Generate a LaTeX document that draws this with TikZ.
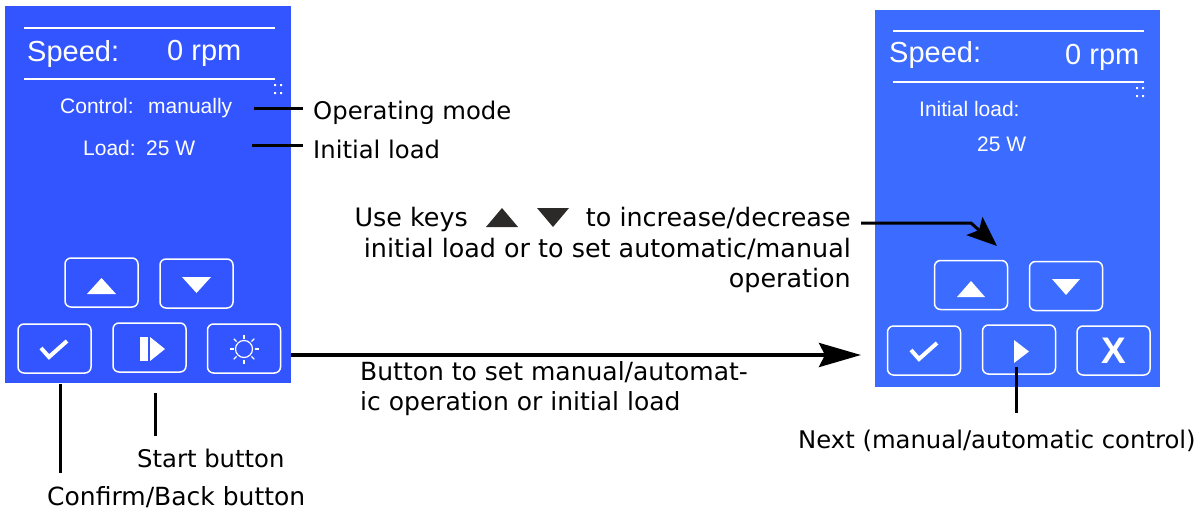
\documentclass[tikz,border=0pt]{standalone}
\usepackage{fontspec}
\setmainfont{DejaVu Sans}
\newfontfamily\panelfont{Liberation Sans}
\usetikzlibrary{arrows.meta}
\definecolor{panelA}{HTML}{3355FF}
\definecolor{panelB}{HTML}{3B6BFF}
\definecolor{keygray}{HTML}{2B2A28}
\tikzset{
	screen/.style={minimum width=#1, minimum height=377, inner sep=0pt, anchor=north west},
	btn/.style={draw=white, line width=1.5, rounded corners=6, minimum width=73, minimum height=49, inner sep=0pt},
	big/.style={text=white, inner sep=0pt, anchor=base west, font=\panelfont\fontsize{29}{32}\selectfont},
	small/.style={text=white, inner sep=0pt, anchor=base west, font=\panelfont\fontsize{21}{24}\selectfont},
	lbl/.style={inner sep=0pt, anchor=base west, font=\fontsize{#1}{30.5}\selectfont},
	lbl/.default=24.3,
	lead/.style={line width=3, draw=black},
}
\begin{document}
\begin{tikzpicture}[x=1pt, y=-1pt]
	\useasboundingbox (0, 0) rectangle (1204, 511);
	
	% left panel
	\node[screen=286, fill=panelA] (panelL) at (5, 5.5) {};
	\draw[white, line width=1.2] (24, 28) -- (275, 28);
	\draw[white, line width=1.2] (24, 79) -- (275, 79);
	\node[big] (speedL) at (27, 62) {Speed:};
	\node[big] (rpmL) at (167, 60) {0 rpm};
	\node[small] (controlL) at (60, 113) {Control:};
	\node[small] (manualL) at (148, 113) {manually};
	\node[small] (loadL) at (83, 155) {Load:};
	\node[small] (wattL) at (146, 155) {25 W};
	\fill[white] (274, 84) rectangle (276, 86) (280, 84) rectangle (282, 86);
	\fill[white] (274, 92) rectangle (276, 94) (280, 92) rectangle (282, 94);
	
	\node[btn] (upL) at (101.5, 282.5) {};
	\node[btn] (downL) at (196.5, 283.5) {};
	\node[btn] (checkL) at (54.5, 348.5) {};
	\node[btn] (startL) at (149.5, 347.5) {};
	\node[btn] (sunL) at (244, 348.5) {};
	\fill[white] (87, 294) -- (101.5, 278) -- (116, 294) -- cycle;
	\fill[white] (182, 277) -- (196.5, 293) -- (211, 277) -- cycle;
	\draw[white, line width=4] (41, 348) -- (49, 357) -- (67, 341);
	\fill[white] (140, 337) rectangle (147.5, 361);
	\fill[white] (150, 337) -- (165, 349) -- (150, 361) -- cycle;
	\draw[white, line width=1.2] (244, 349) circle (8.5);
	\foreach \a in {0,45,...,315}
		\draw[white, line width=1.2] (244, 349) ++(\a:10.5) -- ++(\a:4);
	
	% right panel
	\node[screen=285, fill=panelB] (panelR) at (875, 9.5) {};
	\draw[white, line width=1.2] (893, 31) -- (1144, 31);
	\draw[white, line width=1.2] (893, 82) -- (1144, 82);
	\node[big] (speedR) at (889, 63) {Speed:};
	\node[big] (rpmR) at (1065, 64) {0 rpm};
	\node[small] (initR) at (919, 116) {Initial load:};
	\node[small] (wattR) at (977, 151) {25 W};
	\fill[white] (1136, 87) rectangle (1138, 89) (1142, 87) rectangle (1144, 89);
	\fill[white] (1136, 95) rectangle (1138, 97) (1142, 95) rectangle (1144, 97);
	
	\node[btn] (upR) at (971, 285) {};
	\node[btn] (downR) at (1066, 286) {};
	\node[btn] (checkR) at (924, 350.5) {};
	\node[btn] (nextR) at (1019, 349.5) {};
	\node[btn, text=white, font=\panelfont\bfseries\fontsize{37}{37}\selectfont] (closeR) at (1113.5, 350.5) {X};
	\fill[white] (957, 297) -- (971, 281) -- (985, 297) -- cycle;
	\fill[white] (1052, 279) -- (1066, 295) -- (1080, 279) -- cycle;
	\draw[white, line width=4] (911, 350) -- (919, 359) -- (937, 343);
	\fill[white] (1014, 340) -- (1029, 351.5) -- (1014, 363) -- cycle;
	
	% labels
	\node[lbl] (modeLbl) at (313, 119) {Operating mode};
	\node[lbl] (initLbl) at (313, 158) {Initial load};
	\node[lbl] (startLbl) at (137, 467) {Start button};
	\node[lbl=25] (confirmLbl) at (47, 505) {Confirm/Back button};
	\node[lbl=25, align=left, anchor=north west] (setLbl) at (360, 361) {Button to set manual/automat-\\ic operation or initial load};
	\node[lbl=25.4, align=right, anchor=north east] (keysLbl) at (851, 207) {Use keys \hspace{102pt} to increase/decrease\\initial load or to set automatic/manual\\operation};
	\node[lbl] (nextLbl) at (798, 448) {Next (manual/automatic control)};
	
	\fill[keygray] (486, 227) -- (502, 208) -- (518, 227) -- cycle;
	\fill[keygray] (537, 208) -- (553, 227) -- (569, 208) -- cycle;
	
	% connectors
	\coordinate (modeA) at (254, 108);
	\coordinate (initA) at (252, 145);
	\coordinate (confirmA) at (60, 384);
	\coordinate (startA) at (155, 393);
	\coordinate (nextA) at (1016, 367);
	\coordinate (keysA) at (861, 223);
	\coordinate (keysB) at (971, 223);
	\coordinate (keysC) at (997, 246);
	\coordinate (setA) at (panelL.east |- 0, 355);
	\coordinate (setB) at (861, 355);
	
	\draw[lead, shorten >=10] (modeA) -- (modeA -| modeLbl.west);
	\draw[lead, shorten >=10] (initA) -- (initA -| initLbl.west);
	\draw[lead, shorten >=13] (confirmA) -- (confirmA |- confirmLbl.north);
	\draw[lead, shorten >=12] (startA) -- (startA |- startLbl.north);
	\draw[lead, shorten >=16] (nextA) -- (nextA |- nextLbl.north);
	\draw[lead, line width=4, -{Stealth[length=42, width=24, inset=6]}] (setA) -- (setB);
	\draw[lead, -{Stealth[length=30, width=24, inset=6]}] (keysA) -- (keysB) -- (keysC);
\end{tikzpicture}
\end{document}
